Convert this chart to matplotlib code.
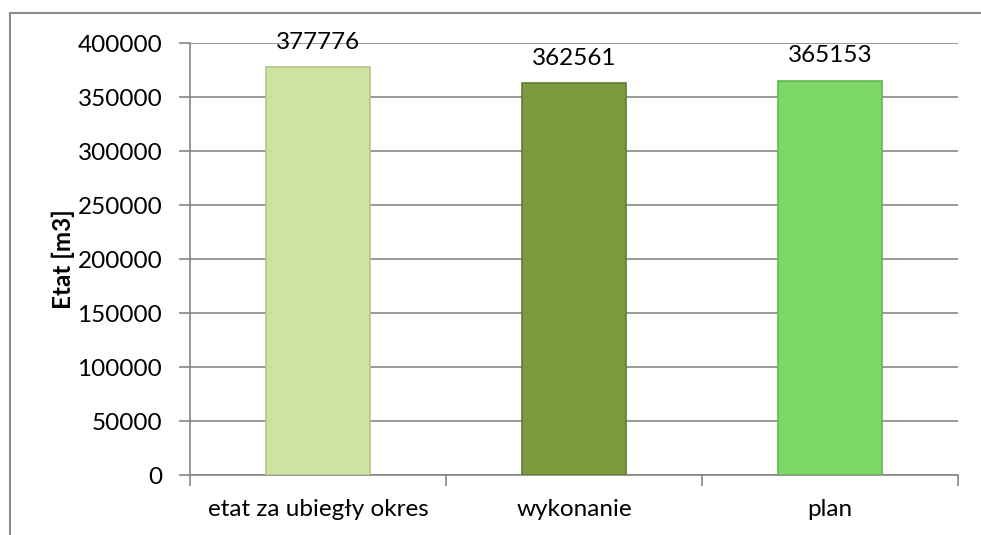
import matplotlib.pyplot as plt
from matplotlib.patches import Rectangle

categories = ["etat za ubiegły okres", "wykonanie", "plan"]
values = [377776, 362561, 365153]
bar_colors = ["#cee3a0", "#7b9b3e", "#7ed867"]
edge_colors = ["#b2c788", "#5f7d2c", "#5fb84c"]

plt.rcParams["font.family"] = ["Lato", "DejaVu Sans"]

fig = plt.figure(figsize=(9.81, 5.35), dpi=100)
fig.patch.set_facecolor("white")

# outer frame of the chart area
frame = Rectangle((10 / 981, -0.01), 1.0, (535 - 13) / 535 + 0.01,
                  transform=fig.transFigure, fill=False,
                  edgecolor="#8c8c8c", linewidth=1.5, zorder=0)
fig.patches.append(frame)

ax = fig.add_axes([190 / 981, 60 / 535, (958 - 190) / 981, (475 - 43) / 535])

x = list(range(len(categories)))
bars = ax.bar(x, values, width=0.405, color=bar_colors,
              edgecolor=edge_colors, linewidth=1.2, zorder=3)

for b, v in zip(bars, values):
    ax.annotate(str(v), (b.get_x() + b.get_width() / 2, v),
                xytext=(0, 18), textcoords="offset points",
                ha="center", va="center", fontsize=17.5, zorder=4)

ax.set_ylim(0, 400000)
ax.set_xlim(-0.5, 2.5)
ax.set_yticks(range(0, 400001, 50000))
ax.yaxis.grid(True, color="#868686", linewidth=1.2, zorder=0)
ax.tick_params(axis="y", length=8, width=1.2, color="#868686",
               labelsize=17.5, pad=12)

# category separators as major ticks, labels on minor ticks
ax.set_xticks([-0.5, 0.5, 1.5, 2.5])
ax.set_xticklabels([])
ax.set_xticks(x, minor=True)
ax.set_xticklabels(categories, minor=True)
ax.tick_params(axis="x", which="major", length=8, width=1.2, color="#868686")
ax.tick_params(axis="x", which="minor", length=0, labelsize=17.5, pad=17)

for s in ["top", "right"]:
    ax.spines[s].set_visible(False)
for s in ["left", "bottom"]:
    ax.spines[s].set_color("#868686")
    ax.spines[s].set_linewidth(1.2)

ax.set_ylabel("Etat [m3]", fontsize=17.5, fontweight="bold", labelpad=2)

fig.savefig("out.png", dpi=100)
